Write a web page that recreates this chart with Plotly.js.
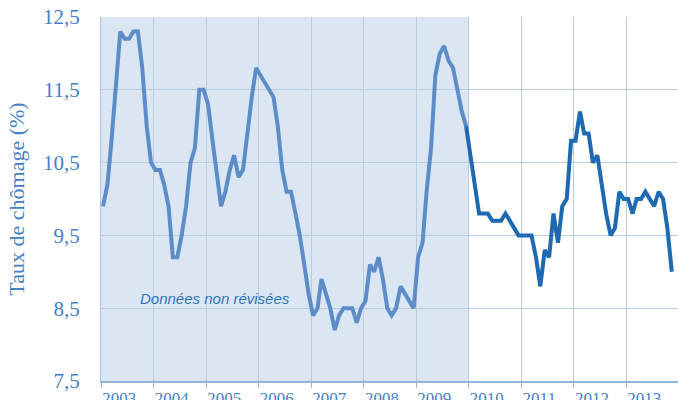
<!DOCTYPE html>
<html>
<head>
<meta charset="utf-8">
<script src="https://cdn.plot.ly/plotly-3.0.1.min.js"></script>
<style>html,body{margin:0;padding:0;background:#fff;}#chart{width:678px;height:400px;}</style>
</head>
<body>
<div id="chart"></div>
<script>
// Monthly unemployment rate (%), starting January 2003
const startYear = 2003;
const nonRevised = [ // Jan 2003 - Dec 2009
  9.9, 10.2, 10.8, 11.5, 12.3, 12.2, 12.2, 12.3, 12.3, 11.8, 11.0, 10.5,
  10.4, 10.4, 10.2, 9.9, 9.2, 9.2, 9.5, 9.9, 10.5, 10.7, 11.5, 11.5,
  11.3, 10.8, 10.4, 9.9, 10.1, 10.4, 10.6, 10.3, 10.4, 10.9, 11.4, 11.8,
  11.7, 11.6, 11.5, 11.4, 11.0, 10.4, 10.1, 10.1, 9.8, 9.5, 9.1, 8.7,
  8.4, 8.5, 8.9, 8.7, 8.5, 8.2, 8.4, 8.5, 8.5, 8.5, 8.3, 8.5,
  8.6, 9.1, 9.0, 9.2, 8.9, 8.5, 8.4, 8.5, 8.8, 8.7, 8.6, 8.5,
  9.2, 9.4, 10.1, 10.7, 11.7, 12.0, 12.1, 11.9, 11.8, 11.5, 11.2, 11.0
];
const revised = [ // Dec 2009 - Nov 2013
  11.0,
  10.6, 10.2, 9.8, 9.8, 9.8, 9.7, 9.7, 9.7, 9.8, 9.7, 9.6, 9.5,
  9.5, 9.5, 9.5, 9.2, 8.8, 9.3, 9.2, 9.8, 9.4, 9.9, 10.0, 10.8,
  10.8, 11.2, 10.9, 10.9, 10.5, 10.6, 10.2, 9.8, 9.5, 9.6, 10.1, 10.0,
  10.0, 9.8, 10.0, 10.0, 10.1, 10.0, 9.9, 10.1, 10.0, 9.6, 9.0
];
const revisedStartIndex = 83;
const years = [2003, 2004, 2005, 2006, 2007, 2008, 2009, 2010, 2011, 2012, 2013];
const yearLabels = ['2003','2004','2005','2006','2007','2008','2009','2010','2011','2012','2013'];
const yTicks = [7.5, 8.5, 9.5, 10.5, 11.5, 12.5];
const yTickLabels = ['7,5','8,5','9,5','10,5','11,5','12,5'];
const annotationText = 'Données non révisées';

function monthDate(i) {
  const y = startYear + Math.floor(i / 12);
  const m = (i % 12) + 1;
  return y + '-' + String(m).padStart(2, '0') + '-15';
}
const xNon = nonRevised.map((_, i) => monthDate(i));
const xRev = revised.map((_, i) => monthDate(i + revisedStartIndex));

const textColor = 'rgb(68,128,196)';
const gridColor = 'rgb(184,204,226)';

const data = [
  {x: xNon, y: nonRevised, type: 'scatter', mode: 'lines',
   line: {color: 'rgb(92,141,201)', width: 4}, hoverinfo: 'skip'},
  {x: xRev, y: revised, type: 'scatter', mode: 'lines',
   line: {color: 'rgb(30,106,178)', width: 4}, hoverinfo: 'skip'}
];

const layout = {
  width: 678, height: 400,
  margin: {l: 101, r: 0, t: 17, b: 19},
  paper_bgcolor: '#fff', plot_bgcolor: '#fff',
  showlegend: false,
  xaxis: {
    type: 'date',
    range: ['2003-01-01', '2013-12-28'],
    tickvals: years.map(y => y + '-05-08'),
    ticktext: yearLabels,
    ticks: '', showgrid: false, zeroline: false,
    tickfont: {family: 'Liberation Serif, Times New Roman, serif', size: 17, color: textColor},
    ticklabelstandoff: 1,
    showline: true, linecolor: 'rgb(150,180,215)', linewidth: 1.5,
    minor: {tick0: '2003-01-01', dtick: 'M12', showgrid: true, gridcolor: gridColor, gridwidth: 1,
            ticks: 'outside', ticklen: 5, tickcolor: 'rgb(150,180,215)', tickwidth: 1}
  },
  yaxis: {
    range: [7.5, 12.5],
    tickvals: yTicks, ticktext: yTickLabels,
    ticks: '', showgrid: true, gridcolor: gridColor, gridwidth: 1, zeroline: false,
    showline: true, linecolor: 'rgb(170,195,225)', linewidth: 1,
    tickfont: {family: 'Liberation Serif, Times New Roman, serif', size: 21, color: textColor},
    ticklabelstandoff: 16,
    title: {text: 'Taux de chômage (%)', standoff: 12,
            font: {family: 'Liberation Serif, Times New Roman, serif', size: 22, color: textColor}},
    automargin: false
  },
  shapes: [{
    type: 'rect', xref: 'x', yref: 'paper',
    x0: '2003-01-01', x1: '2010-01-01', y0: 0, y1: 1,
    fillcolor: 'rgb(219,230,242)', line: {width: 0}, layer: 'below'
  }],
  annotations: [{
    xref: 'x', yref: 'y', x: '2005-03-01', y: 8.64,
    text: annotationText, showarrow: false,
    font: {family: 'Liberation Sans, Arial, sans-serif', size: 15, color: 'rgb(46,117,182)'},
    xanchor: 'center', yanchor: 'middle'
  }]
};
layout.annotations[0].text = '<i>' + annotationText + '</i>';

Plotly.newPlot('chart', data, layout, {staticPlot: true, displayModeBar: false});
</script>
</body>
</html>
